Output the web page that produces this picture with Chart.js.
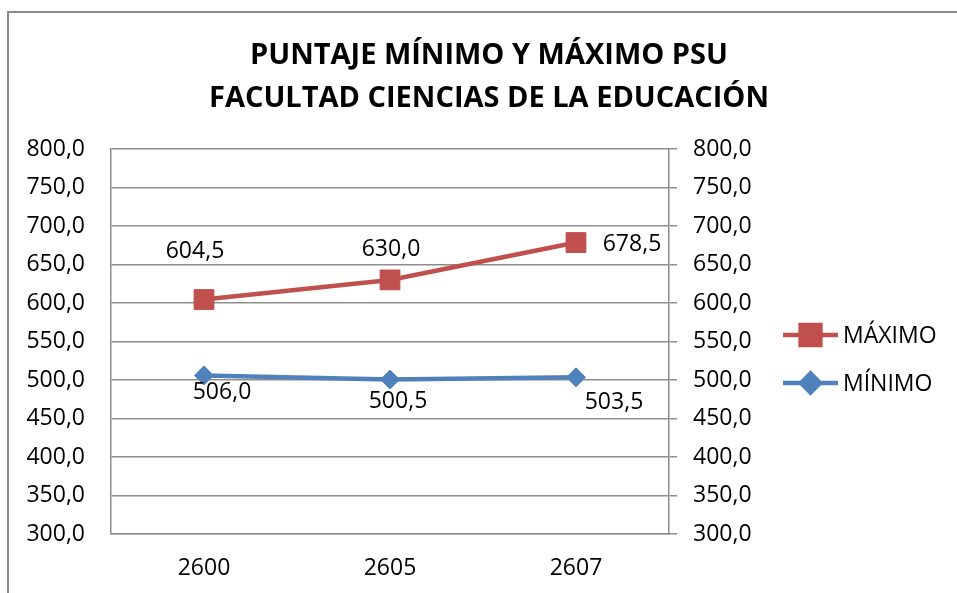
<!DOCTYPE html>
<html>
<head>
<meta charset="utf-8">
<script src="https://cdn.jsdelivr.net/npm/chart.js@4/dist/chart.umd.min.js"></script>
<style>
  html, body { margin: 0; padding: 0; background: #ffffff; }
  #wrap { position: relative; width: 957px; height: 593px; }
</style>
</head>
<body>
<div id="wrap"><canvas id="c" width="957" height="593"></canvas></div>
<script>
// ---- data ----
const categories = ['2600', '2605', '2607'];
const maximoValues = [604.5, 630.0, 678.5];
const minimoValues = [506.0, 500.5, 503.5];
const yTicks = [300, 350, 400, 450, 500, 550, 600, 650, 700, 750, 800];
const titleLines = ['PUNTAJE MÍNIMO Y MÁXIMO PSU', 'FACULTAD CIENCIAS DE LA EDUCACIÓN'];
const seriesNames = ['MÁXIMO', 'MÍNIMO'];

const RED = '#C0504D';
const BLUE = '#4F81BD';
const GRID = '#8E8E8E';
const FONT = "'Open Sans', 'DejaVu Sans', sans-serif";
const fmt = v => Number(v).toFixed(1).replace('.', ',');

const frame = {
  id: 'frame',
  beforeDraw(chart) {
    const ctx = chart.ctx;
    ctx.save();
    ctx.fillStyle = '#ffffff';
    ctx.fillRect(0, 0, chart.width, chart.height);
    ctx.strokeStyle = '#8A8A8A';
    ctx.lineWidth = 2;
    ctx.beginPath();
    ctx.moveTo(8, chart.height);
    ctx.lineTo(8, 12);
    ctx.lineTo(chart.width, 12);
    ctx.stroke();
    ctx.restore();
  }
};

const valueLabels = {
  id: 'valueLabels',
  afterDatasetsDraw(chart, args, opts) {
    const ctx = chart.ctx;
    ctx.save();
    ctx.font = '23px ' + FONT;
    ctx.fillStyle = '#000000';
    ctx.textAlign = 'center';
    ctx.textBaseline = 'middle';
    chart.data.datasets.forEach((ds, di) => {
      const meta = chart.getDatasetMeta(di);
      const offs = opts.offsets[di];
      meta.data.forEach((pt, i) => {
        const o = offs[i];
        ctx.fillText(fmt(ds.data[i]), pt.x + o[0], pt.y + o[1]);
      });
    });
    ctx.restore();
  }
};

const sideLegend = {
  id: 'sideLegend',
  afterDraw(chart, args, opts) {
    const ctx = chart.ctx;
    ctx.save();
    chart.data.datasets.forEach((ds, di) => {
      const y = opts.y[di];
      const x0 = opts.x, x1 = opts.x + opts.lineLen;
      ctx.strokeStyle = ds.borderColor;
      ctx.lineWidth = ds.borderWidth;
      ctx.beginPath();
      ctx.moveTo(x0, y);
      ctx.lineTo(x1, y);
      ctx.stroke();
      Chart.helpers.drawPoint(ctx, {
        pointStyle: ds.pointStyle,
        radius: ds.pointRadius,
        borderWidth: 1,
        rotation: 0
      }, (x0 + x1) / 2, y);
      ctx.fillStyle = ds.pointBackgroundColor;
      ctx.strokeStyle = ds.pointBorderColor;
      ctx.lineWidth = 1;
      ctx.fill();
      ctx.stroke();
      ctx.fillStyle = '#000000';
      ctx.font = '23px ' + FONT;
      ctx.textAlign = 'left';
      ctx.textBaseline = 'middle';
      ctx.fillText(ds.label, x1 + 5, y + 1);
    });
    ctx.restore();
  }
};

new Chart(document.getElementById('c'), {
  type: 'line',
  data: {
    labels: categories,
    datasets: [
      {
        label: seriesNames[0],
        data: maximoValues,
        borderColor: RED,
        backgroundColor: RED,
        pointBackgroundColor: RED,
        pointBorderColor: RED,
        borderWidth: 4.5,
        pointStyle: 'rect',
        pointRadius: 14,
        pointBorderWidth: 1,
        tension: 0,
        yAxisID: 'y'
      },
      {
        label: seriesNames[1],
        data: minimoValues,
        borderColor: BLUE,
        backgroundColor: BLUE,
        pointBackgroundColor: BLUE,
        pointBorderColor: BLUE,
        borderWidth: 4.5,
        pointStyle: 'rectRot',
        pointRadius: 9.5,
        pointBorderWidth: 1,
        tension: 0,
        yAxisID: 'y'
      }
    ]
  },
  options: {
    responsive: false,
    animation: false,
    events: [],
    layout: { padding: { top: 0, left: 21, right: 0, bottom: 10 } },
    scales: {
      x: {
        offset: true,
        grid: { display: false, drawTicks: false },
        border: { display: true, color: GRID, width: 1.5 },
        ticks: { color: '#000', font: { family: FONT, size: 23, lineHeight: 1.2 }, padding: 21 },
        afterFit: s => { s.height = 49; }
      },
      y: {
        position: 'left',
        min: 300, max: 800,
        afterBuildTicks: s => { s.ticks = yTicks.map(v => ({ value: v })); },
        grid: { color: GRID, lineWidth: 1.5, drawTicks: false },
        border: { display: true, color: GRID, width: 1.5 },
        ticks: { color: '#000', font: { family: FONT, size: 23, lineHeight: 1.2 }, padding: 26, callback: v => fmt(v) },
        afterFit: s => { s.width = 90; }
      },
      y2: {
        position: 'right',
        min: 300, max: 800,
        afterBuildTicks: s => { s.ticks = yTicks.map(v => ({ value: v })); },
        grid: { drawOnChartArea: false, color: GRID, lineWidth: 1.5, drawTicks: true, tickLength: 8 },
        border: { display: true, color: GRID, width: 1.5 },
        ticks: { color: '#000', font: { family: FONT, size: 23, lineHeight: 1.2 }, padding: 16, callback: v => fmt(v) },
        afterFit: s => { s.width = 288; }
      }
    },
    plugins: {
      legend: { display: false },
      tooltip: { enabled: false },
      title: {
        display: true,
        text: titleLines,
        color: '#000',
        font: { family: FONT, size: 29, weight: 'bold', lineHeight: 1.5 },
        padding: { top: 33.5, bottom: 28.5 }
      },
      valueLabels: {
        offsets: [
          [[-9, -48], [1, -30], [56, 2]],
          [[18, 17], [8, 22], [38, 25]]
        ]
      },
      sideLegend: { x: 783, lineLen: 55, y: [335, 383] }
    }
  },
  plugins: [frame, valueLabels, sideLegend]
});
</script>
</body>
</html>
